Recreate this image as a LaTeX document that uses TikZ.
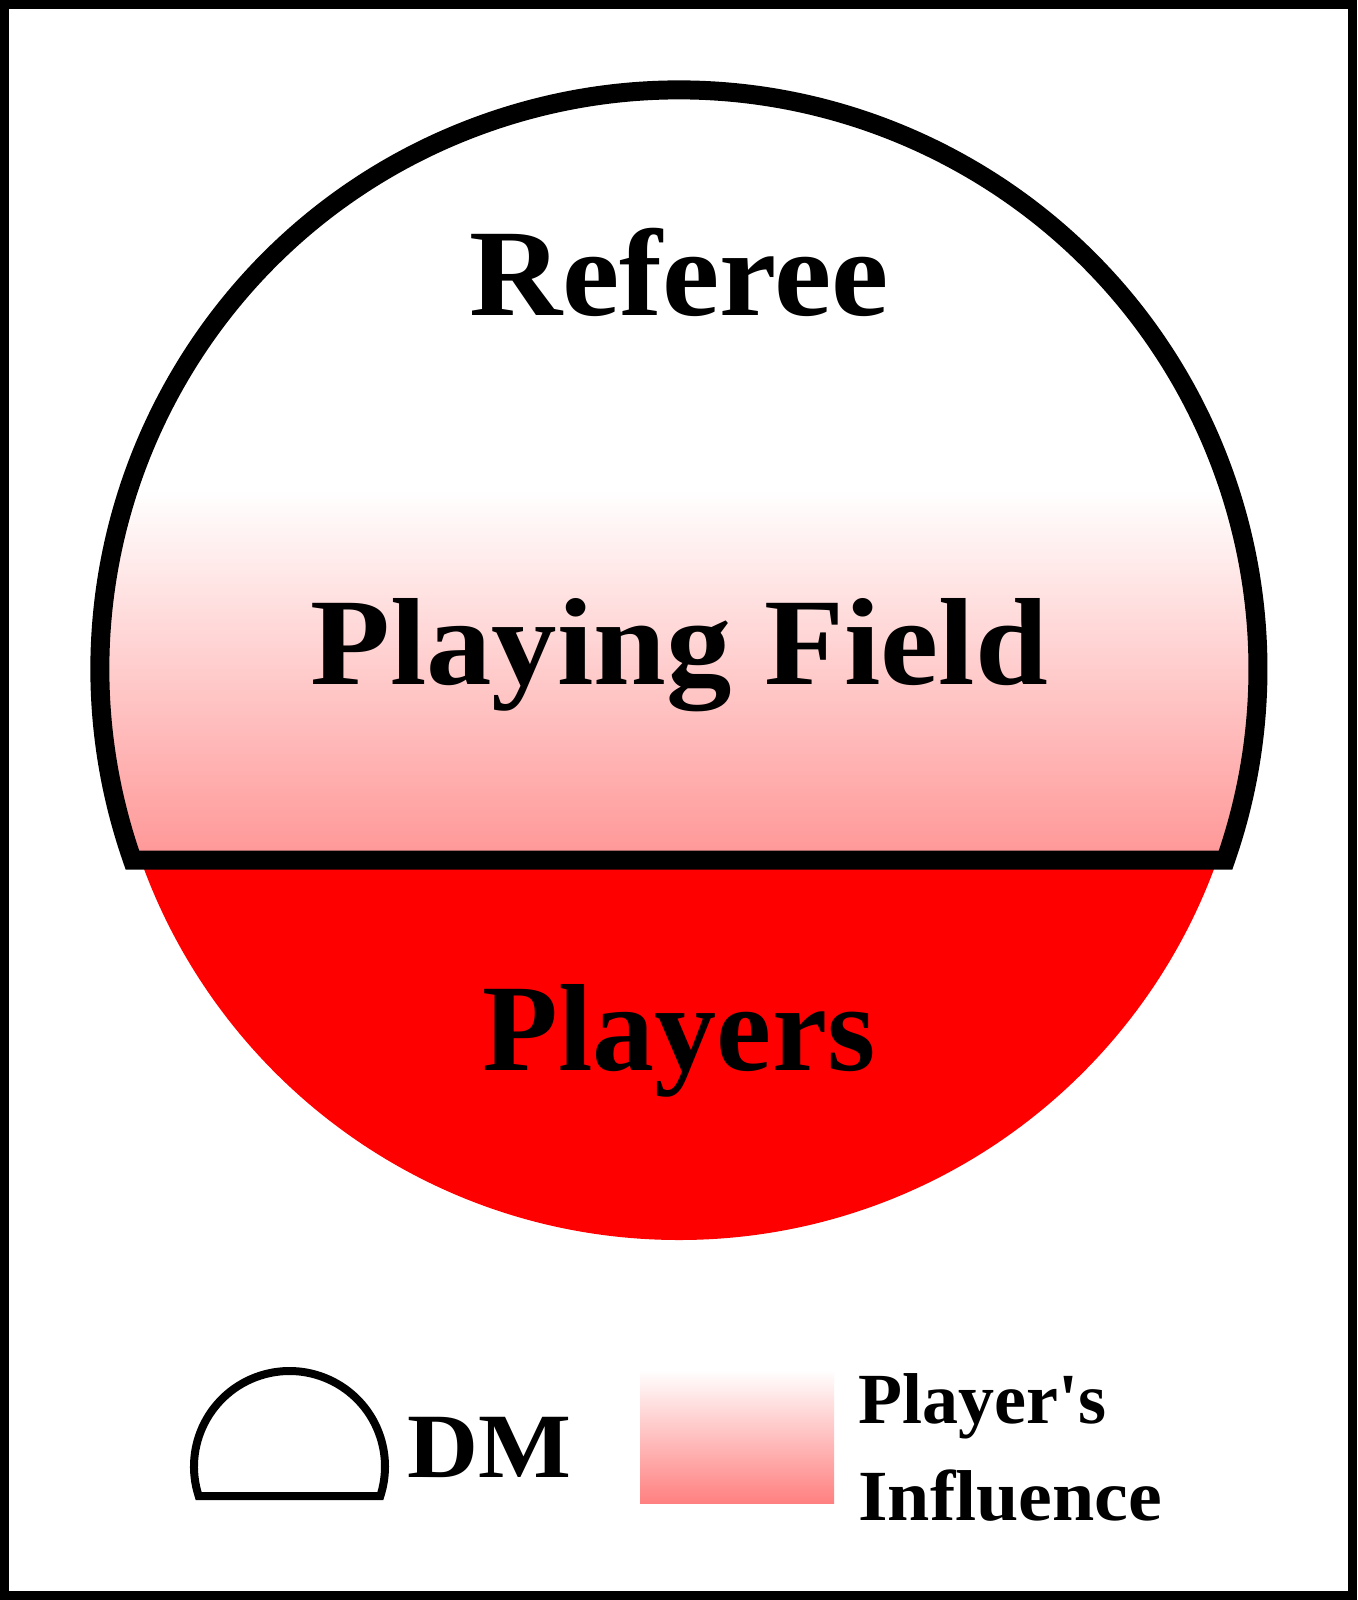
\documentclass[tikz,border=0pt]{standalone}
\usepackage{fontspec}
\setmainfont{Liberation Serif}[Ligatures=TeXOff]
\definecolor{fieldpink}{RGB}{255,150,150}
\definecolor{legendpink}{RGB}{255,128,128}
\definecolor{playerred}{RGB}{255,0,0}
\tikzset{
  bigtext/.style={font=\fontsize{62pt}{70pt}\selectfont\bfseries, inner sep=0pt},
  dmtext/.style={font=\fontsize{46pt}{52pt}\selectfont\bfseries, inner sep=0pt},
  legtext/.style={font=\fontsize{36pt}{42pt}\selectfont\bfseries, inner sep=0pt},
  outline/.style={draw=black, line width=9.5pt, line join=miter},
  dmoutline/.style={draw=black, line width=4pt, line join=miter},
  frame/.style={draw=black, line width=4.5pt}
}
\begin{document}
\begin{tikzpicture}[x=0.5pt,y=-0.5pt]
\useasboundingbox (0,0) rectangle (1357,1600);
\fill[white] (0,0) rectangle (1357,1600);
% outer frame
\draw[frame] (4.25,4.25) rectangle (1352.75,1595.75);

% players (red lower part)
\begin{scope}
  \clip (0,860) rectangle (1357,1600);
  \fill[playerred] (679,669) circle[radius=285.5pt];
\end{scope}

% playing field / referee (upper part)
\begin{scope}
  \clip (132.41,860) arc[start angle=199.26, end angle=-19.26, radius=289.5pt] -- cycle;
  \fill[white] (0,0) rectangle (1357,860);
  \shade[top color=white, bottom color=fieldpink] (0,490) rectangle (1357,861);
\end{scope}
\draw[outline] (132.41,860) arc[start angle=199.26, end angle=-19.26, radius=289.5pt] -- cycle;

% labels
\node[bigtext, anchor=base, xscale=1.04] (referee) at (679,315) {Referee};
\node[bigtext, anchor=base, xscale=1.055] (field) at (679,684) {Playing Field};
\node[bigtext, anchor=base] (players) at (679,1070) {Players};

% legend
\draw[dmoutline] (198.67,1496) arc[start angle=197.99, end angle=-17.99, radius=47.75pt] -- cycle;
\node[dmtext, anchor=base west, xscale=1.07] (dm) at (407,1477) {DM};
\shade[top color=white, bottom color=legendpink] (640,1370) rectangle (834,1503);
\node[legtext, anchor=base west] (pl) at (858,1423) {Player's};
\node[legtext, anchor=base west, xscale=1.055] (inf) at (858,1520) {Influence};
\end{tikzpicture}
\end{document}
